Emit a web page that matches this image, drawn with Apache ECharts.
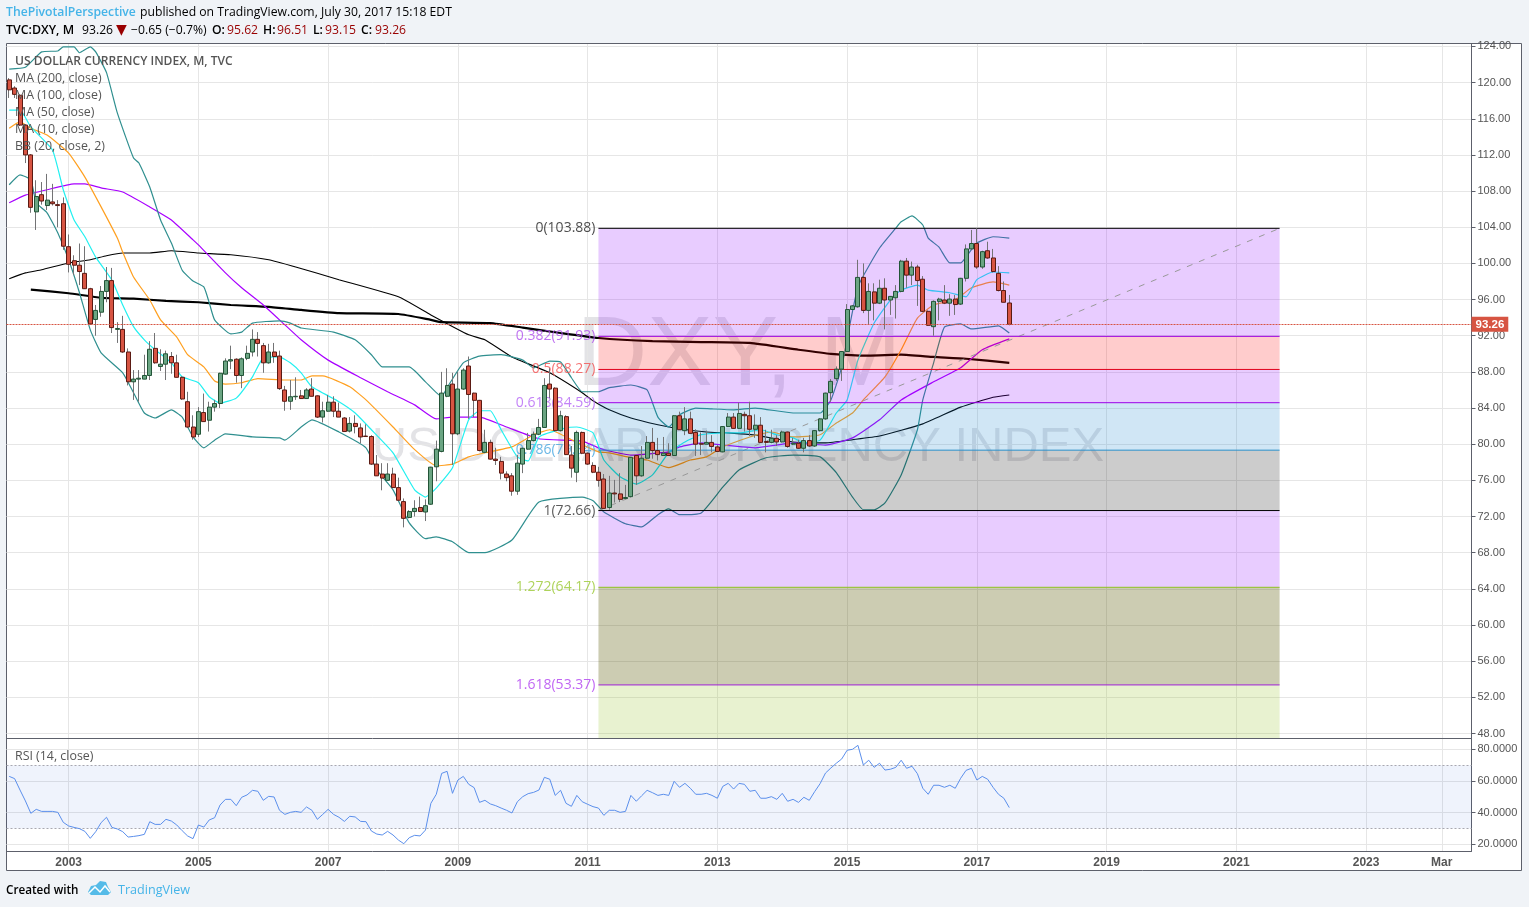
<!DOCTYPE html>
<html><head><meta charset="utf-8">
<style>html,body{margin:0;padding:0;background:#f0f3f7;overflow:hidden}#c{width:1529px;height:907px}</style>
<script src="https://cdn.jsdelivr.net/npm/echarts@6/dist/echarts.min.js"></script>
</head><body><div id="c"></div>
<script>
const opens=[120.3,119.4,118.6,115.3,112,105.7,107.6,106.4,106.8,106.5,106.6,
101.85,100.3,99.8,98.9,97.2,93.8,94.6,96.9,98.1,92.7,
92.7,90.2,86.9,87.2,87.2,87.6,90.6,88.6,88.85,89.7,
89,87.4,84.7,81.9,81.1,83.5,82.65,84.1,84.5,87.75,
89.2,89.4,87.6,89.5,90.2,91.6,90.9,89,90.2,89.75,
86,84.75,85.25,85.35,85.05,86.1,85.35,83,83.65,84.65,
83.65,82.9,81.45,82.3,81.8,80.9,80.85,77.8,76.7,76,
76.7,75.2,73.65,71.9,72.55,73,72.5,73.36,77.5,79.2,
85.3,86.65,81.15,86.1,88.65,85.65,84.85,79.1,80.2,78.35,
78.1,76.7,76.5,74.8,77.8,79.45,80.4,81.1,81.85,86.65,
86.2,81.5,83.05,78.8,76.9,81.3,79,77.65,76.9,76.15,
73,74.6,74.5,74,74.2,78.75,76.5,78.45,80.2,79.3,
78.75,79,78.75,83.15,81.5,82.8,81.3,80.05,80,80.2,
79.7,79.15,81.95,83,81.75,83.3,83.15,81.65,82.1,80.3,
80.2,80.65,80.25,81.35,80,80.1,79.55,80.4,79.8,81.5,
82.8,85.7,87.25,88.3,90.25,94.9,95.2,98.45,94.8,96.85,
95.6,97.25,95.95,96.2,96.9,100.25,98.7,99.6,98.25,94.7,
93,95.8,95.95,95.6,96.05,95.5,98.35,101.6,102.2,99.6,
101.4,100.6,98.9,97,95.62];
const closes=[119.2,118.7,115.3,112,106.2,107.4,106.9,107,106.6,106.4,101.9,
99.9,99.8,99.1,97.2,93.3,94.8,96.9,98.1,92.9,92.8,
90.2,86.9,87.2,87.3,87.6,90.5,89,88.85,90,89,
87.4,85,81.9,80.8,83.6,82.5,84.1,84.5,87.85,89.2,
89.35,87.6,89.45,90.05,91.6,91.15,89,90.2,89.7,86.15,
84.75,85.25,85.3,85.05,86,85.3,83,83.7,84.65,83.65,
83,81.4,82.3,81.95,80.8,80.85,77.8,76.5,76.25,76.7,
75.2,73.8,71.8,72.55,72.9,72.55,73.2,77.46,79.45,85.65,
86.5,81.15,86.1,88.2,85.5,84.85,79.3,80.2,78.35,78.2,
76.8,76.3,74.8,77.9,79.55,80.4,81.1,81.85,86.5,86.1,
81.5,83.15,78.85,77.35,81.3,79,77.8,76.9,76,72.9,
74.6,74.5,73.9,74.1,78.55,76.5,78.45,80.2,79.3,78.85,
79,78.75,83.15,81.6,82.8,81.2,80,80,80.2,79.75,
79.2,81.95,83,81.75,83.4,83.15,81.65,82.1,80.2,80.2,
80.65,80.25,81.35,79.75,80.1,79.55,80.4,79.8,81.5,82.8,
85.65,86.95,88.3,90.25,94.9,95.3,98.45,94.8,96.9,95.6,
97.25,95.95,96.35,96.9,100.25,98.7,99.6,98.1,94.7,93.15,
95.8,96.05,95.6,96.05,95.45,98.35,101.6,102.2,99.6,101.3,
100.6,99.1,97,95.7,93.26];
const highs=[120.5,119.6,118.7,115.4,112.1,109.2,109,109.9,108.8,107,107.3,
103.2,100.9,102.2,101.9,97.3,95.4,97.5,99.6,99.5,93.5,
94.2,90.6,88.2,88.2,89.9,91.4,92.3,90.5,90.35,90.2,
89.9,87.5,85.8,83.2,84.1,85.6,84.7,84.9,87.9,89.5,
90.9,89.5,89.6,90.9,92.7,92.4,91.2,91.1,91.2,90.35,
86.45,87.1,87.4,86,86.2,87.3,85.4,84.7,85.45,85.3,
84.6,83,83,83.2,82.3,82.2,81,78.8,77.9,77.9,
77.4,76.3,74,72.7,73.8,74.2,73.9,77.5,80.4,88,
88.4,87.9,88,88.4,89.7,85.7,84.9,81.6,80.5,79.6,
78.6,77,76.8,78.8,79.6,81.25,81.4,82.8,87.3,88.4,
86.3,83.7,83.2,79.8,81.5,81.4,79.1,78,77.5,76.7,
76.5,76.05,76.8,75.5,78.6,78.8,79.8,80.9,81.8,80.7,
80.8,80.1,83.2,83.6,84.1,83.6,81.65,81.3,81.5,81,
79.9,82,83.45,83.45,84.6,83.6,84.7,83.3,83,81.6,
81.6,81,81.5,81.4,80.7,80.5,80.7,81,81.55,82.85,
85.7,87.2,88.6,90.3,95.5,95.4,100.4,100,97.8,97.8,
98.2,98.35,96.4,97.6,100.4,100.6,100.2,99.85,98.6,94.8,
95.9,96.2,97.6,96.6,96.5,98.4,102.1,103.7,103.9,101.4,
102.4,101.6,99.7,98,96.51];
const lows=[118.3,118.3,115.2,111.1,105.6,103.7,106.5,105.9,106.4,104,101.5,
99,98.7,97.6,97.2,93.2,92,94.1,95.7,92.3,91.2,
90.1,86.5,84.9,84.7,87.2,87.1,88.9,88.1,87.1,87.8,
87.4,84.9,81.8,80.5,80.8,82.5,81.4,83.6,84,87.7,
88.3,86.8,86.2,89.3,89.7,89.7,87.9,88.9,89,86,
83.7,83.8,84.9,85,85,85.3,82.9,82.4,83.6,83,
83,81.4,81.3,81.2,80.1,80.8,77.7,76.5,74.9,76,
75.2,73.8,70.8,71.8,72,72.5,71.5,73.3,75.9,79.1,
85.2,77.7,81,86,82.8,83,79.2,79,78.3,77.7,
76.1,75.9,74.3,74.4,76.8,79.4,80.3,81,81.8,85.1,
81.4,81.4,78.8,76.3,75.8,78.9,77.7,76.8,75.3,72.9,
72.75,73.55,73.6,73.9,74.1,75.5,76.4,78.4,78.4,78.2,
78.7,78.7,78.7,81.6,81,81.2,78.7,78.8,80,79.1,
79.2,79.1,81.9,81.7,81.7,81.4,80.9,80.7,80.2,79.1,
80.1,79.8,80.2,79.6,79.9,79.5,79.1,79.7,79.7,81.4,
82.7,84.7,87,87,90.2,94.9,95.1,94.5,93.3,93.7,
95.5,92.7,94.3,93.9,96.8,97.3,97.6,95.3,94.6,93.1,
92,93.7,95.5,94.2,94.3,95.4,98,101.5,99.4,99.4,
100.5,99,96.9,95.7,93.15];
const rsi=[62.9,61.5,54.3,47.4,39.6,42.1,40.8,40.8,40.8,40.2,33.9,31.6,30.7,29.9,28.2,23.8,28,33.7,37.1,30.7,29.7,28,24.6,25,25.5,26.3,34.3,32.6,32.6,35.8,34.7,32.2,28.6,25.3,23.6,32.2,30.9,35.4,36.8,44.8,48.4,48.4,44.4,49.7,51.2,54.1,53.5,47.8,50.3,49.9,41.5,38.9,40.2,40.8,40.2,43.6,41.5,35.8,38.9,42.1,38.9,37.1,34.5,37.7,37.3,34.5,34.3,28.4,26.5,25.9,28.2,25.9,22.7,20.4,24.2,25.7,25.3,29,45.9,51.6,64.8,66.1,52.2,60.6,62.9,57.9,55.8,46.5,47.8,45.5,44.4,42.9,41.5,39.8,46.9,50.1,52,52.8,54.3,62.3,61.1,50.9,54.1,45.9,44,50.9,46.9,45.3,43.8,42.9,38.3,41.5,41.5,40.2,40.8,50.9,47.2,50.7,54.1,52.6,50.9,51.6,50.9,59.8,56,58.5,55.4,51.6,51.6,52.2,50.9,49.1,56.6,58.5,54.9,58.5,57.9,53.5,54.1,49.1,49.1,50.1,48.4,52.2,47.2,48.4,46.5,49.7,47.8,53.3,58.3,65,68.2,71.2,73.9,79.4,80,82.5,70.1,73.1,68.6,71.2,66.9,67.4,68.6,73.1,68,69.3,64.6,55.4,51.6,57.3,57.3,56,57.3,55.4,61.7,66.7,68,60.6,62.9,61.1,56,51.6,49.1,43.2];
// moving averages and bands, read at [bar index, price]
const ma200=[[4,97.1],[11,96.7],[17,96.2],[23,96.1],[29,95.85],[35,95.7],[41,95.4],[48,95.2],[54,94.85],[61,94.5],[72,94.4],[78,93.75],[80,93.5],[89,93.4],[95,92.9],[102,92.3],[109,91.75],[119,91.4],[128,91.3],[137,91.2],[146,90.45],[152,90],[159,89.8],[165,89.9],[171,89.65],[177,89.45],[185,89]];
const ma100=[[0,98.3],[3,98.95],[6,99.3],[11,100.05],[15,100.4],[18,100.85],[21,101.15],[26,101.15],[30,101.4],[35,101.15],[41,100.95],[48,100.4],[53,99.6],[61,98.2],[72,96.3],[78,94.3],[85,92.1],[88,91.55],[93,89.65],[100,87.9],[106,85.7],[108,84.8],[111,83.8],[115,82.9],[120,82.15],[123,81.8],[129,81.35],[133,81.25],[138,81],[145,80.25],[151,80.15],[156,80.5],[161,80.9],[169,82.25],[176,84.1],[182,85.2],[185,85.45]];
const ma50=[[0,106.7],[3,107.55],[7,108.15],[12,108.8],[14,108.8],[17,108.35],[21,107.9],[26,106.25],[30,104.8],[34,102.6],[35,102.05],[40,98.95],[43,97.3],[47,95.4],[51,93.2],[54,91.55],[59,89.3],[65,87.35],[70,85.8],[75,84.35],[79,82.8],[82,83],[87,83],[92,81.9],[98,80.6],[106,80.35],[109,79.6],[111,79.25],[115,78.8],[122,79.15],[124,79.7],[128,80.15],[132,79.9],[138,79.6],[145,80.15],[151,79.9],[156,80.7],[161,82.7],[165,84.9],[171,86.9],[176,88.45],[180,90.45],[185,91.65]];
const maOrange=[[0,114.95],[2,115.65],[4,114.95],[7,114.2],[11,112.2],[14,109.55],[17,106.25],[20,102.8],[21,101.25],[23,98.5],[26,95.95],[28,93.75],[31,91.85],[33,89.9],[36,88.55],[38,87],[40,86.65],[43,86.8],[46,87.25],[51,87.1],[54,87.1],[56,87.55],[58,87.55],[63,86.35],[66,84.9],[71,81.9],[75,79.4],[79,77.6],[82,77.8],[85,78.6],[88,79.05],[93,79.7],[97,81.05],[100,81.6],[104,80.5],[109,79.15],[111,79.05],[115,78.5],[118,78.25],[122,77.4],[126,78.25],[129,78.6],[132,79.7],[137,80.8],[141,81.35],[145,80.8],[150,81.05],[153,82.35],[156,83.45],[158,84.9],[162,87.45],[165,90.45],[168,93.95],[171,95.4],[175,95.95],[178,97.3],[182,97.95],[185,97.6]];
const ma10=[[0,116.95],[2,116.95],[4,115.1],[8,112.55],[10,108.15],[12,104.8],[14,102.95],[16,100.7],[19,98.15],[21,95.4],[23,93],[25,91.55],[27,90.45],[30,89],[32,87.45],[35,86.8],[37,85.25],[39,84.55],[42,85.1],[45,87.45],[47,89.55],[50,89.65],[52,89],[54,87.9],[56,86.35],[61,84.7],[64,83.45],[67,81.6],[71,79.05],[75,74.95],[77,74.15],[79,75.15],[82,77.4],[85,82.7],[87,83.7],[89,83.7],[91,81.6],[94,78.6],[96,78.15],[98,80.8],[103,81.8],[105,81.9],[108,81.25],[110,78.25],[113,76.4],[116,75.6],[119,76.6],[122,79.05],[125,80.25],[128,81.05],[132,81.25],[135,81.25],[139,81.6],[142,81.05],[145,80.7],[147,80.15],[150,80.45],[153,83.45],[155,84.9],[157,89.3],[160,93.4],[163,95.95],[165,97.05],[168,97.6],[170,97.05],[174,96.75],[177,96.3],[179,98.2],[182,99.05],[185,98.95]];
const bbUpper=[[0,121.5],[3,121.7],[6,123.4],[9,123.5],[10,123.95],[12,123.95],[13,123.3],[15,123.95],[16,123.4],[18,121.1],[20,116.65],[23,111.65],[24,111.1],[26,108.45],[28,104.8],[30,102.25],[32,99.25],[34,98.05],[36,97.4],[37,95.65],[38,93.75],[41,92.2],[43,92.4],[45,93.4],[50,93.65],[52,93.4],[54,92.85],[60,92.4],[64,91.55],[67,89.9],[69,88.55],[74,88.55],[77,86.9],[80,85.25],[81,86.25],[84,89],[87,89.75],[91,89.9],[95,89.3],[97,88.45],[100,89.2],[102,89.1],[104,87.35],[106,85.8],[109,85.8],[111,86.25],[115,86.55],[118,86],[120,83],[122,81.9],[124,83.25],[127,84],[130,83.9],[134,83.8],[138,84],[145,83.45],[150,83.45],[152,84.9],[154,88.55],[157,97.4],[161,101.7],[164,103.9],[165,104.6],[167,105.25],[169,104.25],[170,102.8],[172,101.8],[174,100.05],[176,100.05],[177,100.7],[179,102.25],[182,102.95],[185,102.8]];
const bbLower=[[0,108.7],[2,109.8],[4,109.25],[5,106.7],[7,105.6],[9,103.35],[11,100.4],[13,96.75],[15,92.65],[17,90.1],[21,87.9],[23,85.7],[25,83.45],[27,82.9],[30,83.8],[32,83],[34,80.8],[36,79.6],[38,80.45],[40,81.15],[45,80.8],[50,80.7],[51,80.45],[54,81.9],[56,82.7],[61,81.35],[66,79.6],[68,77.15],[71,74.95],[74,71.3],[77,69.55],[79,69.75],[82,69.2],[85,68],[88,68],[93,69.4],[98,73.6],[106,74.15],[108,73.75],[110,72.5],[114,71.2],[117,70.85],[120,72.2],[122,72.85],[124,72.2],[128,72.4],[132,75.25],[135,77.15],[140,78.5],[145,78.8],[150,78.6],[153,76.85],[156,74.15],[158,72.75],[160,72.75],[162,73.5],[165,76.6],[168,81.6],[169,84.9],[171,89],[173,92.95],[176,93.3],[178,92.75],[183,93.1],[185,92.3]];
// fibonacci retracement drawing
const fibRatios=['0','0.382','0.5','0.618','0.786','1','1.272','1.618'];
const fibPrices=[103.88,91.93,88.27,84.59,79.34,72.66,64.17,53.37];
const fibStartBar=109, fibEndBar=235;
const lastPrice=93.26;
const priceTicks=[48,52,56,60,64,68,72,76,80,84,88,92,96,100,104,108,112,116,120,124];
const rsiTicks=[20,40,60,80];
const timeTicks=['2003-01','2005-01','2007-01','2009-01','2011-01','2013-01','2015-01','2017-01','2019-01','2021-01','2023-01','2024-03'];
const timeTickLabels=['2003','2005','2007','2009','2011','2013','2015','2017','2019','2021','2023','Mar'];
const legendLines=['US DOLLAR CURRENCY INDEX, M, TVC','MA (200, close)','MA (100, close)','MA (50, close)','MA (10, close)','BB (20, close, 2)'];

// monthly categories Feb 2002 onward
const months=[];
for(let k=0;k<271;k++){const t=2002*12+1+k;const y=Math.floor(t/12),m=t%12+1;months.push(y+'-'+(m<10?'0':'')+m);}
const isTick=(i,v)=>timeTicks.indexOf(v)>=0;

const FONT='"Open Sans",sans-serif', AX='"Liberation Sans",Arial,sans-serif';
const fibLine=['#000000','#9c00e0','#e0001a','#9c00e8','#2a8fc8','#000000','#8fc021','#a020d8'];
const fibText=['#222','#b050ee','#f25050','#b464f5','#45a5e0','#333','#9ac832','#b040f0'];
const fibFill=['rgba(140,0,255,.2)','rgba(255,0,0,.2)','rgba(140,0,255,.2)','rgba(20,130,205,.2)','rgba(0,0,0,.2)','rgba(140,0,255,.2)','rgba(85,85,0,.3)','rgba(140,190,20,.2)'];
const PMIN=47.5,PMAX=124.27;
const fibAreas=fibPrices.map((p,i)=>[{coord:[fibStartBar,p],itemStyle:{color:fibFill[i]}},{coord:[fibEndBar,i<fibPrices.length-1?fibPrices[i+1]:PMIN]}]);
const fibLineSeries=fibPrices.map((p,i)=>({name:'Fib '+fibRatios[i],type:'line',data:[[fibStartBar,p],[fibEndBar,p]],symbol:'none',z:3,silent:true,lineStyle:{color:fibLine[i],width:1}}));

function lineS(name,data,color,width,z){return {name,type:'line',xAxisIndex:0,yAxisIndex:0,data,symbol:'none',smooth:0.15,z:z||2,lineStyle:{color,width},silent:true};}
const txt=(x,y,t,o)=>({type:'text',x,y:y+1.5,z:50,silent:true,style:Object.assign({text:t,font:'12.2px '+FONT,fill:'#000',verticalAlign:'middle'},o||{})});
const LG={fill:'#555',font:'12.4px '+FONT};
const g=[
 {type:'rect',z:-10,silent:true,shape:{x:6.5,y:43.5,width:1515,height:827},style:{fill:'#fff',stroke:'#5d606b',lineWidth:1}},
 {type:'text',z:-1,silent:true,x:739,y:358,style:{text:'DXY, M',font:'98px "Liberation Sans",Arial,sans-serif',fill:'rgba(60,60,80,.14)',align:'center',verticalAlign:'middle'}},
 {type:'text',z:-1,silent:true,x:738,y:447,style:{text:'US DOLLAR CURRENCY INDEX',font:'49px "Liberation Sans",Arial,sans-serif',fill:'rgba(60,60,80,.14)',align:'center',verticalAlign:'middle'}},
 txt(6,11,'ThePivotalPerspective',{fill:'#45b4e8',font:'600 12.2px '+FONT}),
 txt(140,11,'published on TradingView.com, July 30, 2017 15:18 EDT'),
 txt(6,29,'TVC:DXY, M',{font:'600 12.4px '+FONT}),
 txt(82,29,'93.26'),
 txt(116,29,'▼',{fill:'#990000',font:'14px "DejaVu Sans"'}),
 txt(131,29,'−0.65 (−0.7%)'),
 txt(212,29,'O:',{font:'600 12.2px '+FONT}),txt(227,29,'95.62',{fill:'#990000'}),
 txt(263,29,'H:',{font:'600 12.2px '+FONT}),txt(277,29,'96.51',{fill:'#990000'}),
 txt(313,29,'L:',{font:'600 12.2px '+FONT}),txt(325,29,'93.15',{fill:'#990000'}),
 txt(361,29,'C:',{font:'600 12.2px '+FONT}),txt(375,29,'93.26',{fill:'#990000'}),
 txt(15,60,legendLines[0],{fill:'#555',font:'600 12.1px '+FONT}),
 txt(15,77,legendLines[1],LG),txt(15,94,legendLines[2],LG),
 txt(15,111,legendLines[3],LG),txt(15,128,legendLines[4],LG),
 txt(15,145,legendLines[5],LG),
 txt(15,755,'RSI (14, close)',LG),
 txt(6,889,'Created with',{font:'600 11.7px '+FONT}),
 txt(118,889,'TradingView',{fill:'#45b4e8',font:'12.6px '+FONT}),
 {type:'polygon',z:50,silent:true,shape:{points:[[88,892],[91,886],[96,885],[100,881],[106,882],[108,887],[111,892],[108,895],[91,895]]},style:{fill:'#55bbe8'}},
 {type:'polyline',z:51,silent:true,shape:{points:[[89,893],[95,887],[100,892],[105,886],[110,892]]},style:{stroke:'#fff',lineWidth:1.5,fill:null}}
];

const option={
 animation:false,backgroundColor:'#f0f3f7',textStyle:{fontFamily:AX},
 graphic:g,
 grid:[{left:6.5,top:44,width:1465,height:694,containLabel:false},{left:6.5,top:739,width:1465,height:112}],
 xAxis:[0,1].map(gi=>({type:'category',gridIndex:gi,data:months,boundaryGap:true,
   axisLine:{show:true,onZero:false,lineStyle:{color:'#5d606b'}},
   axisTick:{show:false,alignWithLabel:true,interval:isTick},
   splitLine:{show:true,alignWithLabel:true,interval:isTick,lineStyle:{color:'#e6e6e6'}},
   axisLabel:{show:gi===1,interval:isTick,hideOverlap:false,margin:6,color:'#555',fontSize:12,fontWeight:'bold',fontFamily:AX,formatter:v=>timeTickLabels[timeTicks.indexOf(v)]||''}})),
 yAxis:[
  {type:'value',gridIndex:0,position:'right',min:PMIN,max:PMAX,scale:true,
   axisLine:{show:true,lineStyle:{color:'#5d606b'}},axisTick:{show:true,length:4,customValues:priceTicks,lineStyle:{color:'#5d606b'}},
   splitLine:{show:true,lineStyle:{color:'#e6e6e6'}},
   axisLabel:{customValues:priceTicks,margin:6,padding:[2,0,0,0],color:'#555',fontSize:11,fontFamily:AX,formatter:v=>v.toFixed(2)}},
  {type:'value',gridIndex:1,position:'right',min:15.8,max:86.5,scale:true,
   axisLine:{show:true,lineStyle:{color:'#5d606b'}},axisTick:{show:true,length:4,customValues:rsiTicks,lineStyle:{color:'#5d606b'}},
   splitLine:{show:true,lineStyle:{color:'#e6e6e6'}},
   axisLabel:{customValues:rsiTicks,margin:6,padding:[2,0,0,0],color:'#555',fontSize:11,fontFamily:AX,formatter:v=>v.toFixed(4)}}
 ],
 series:[
  lineS('MA 200',ma200,'#000',2.2),
  lineS('MA 100',ma100,'#000',1.1),
  lineS('MA 50',ma50,'#a800ff',1.2),
  lineS('MA 20',maOrange,'#ffa020',1.2),
  lineS('MA 10',ma10,'#22f0f0',1.2),
  lineS('BB upper',bbUpper,'#2f8f8f',1.2),
  lineS('BB lower',bbLower,'#2f8f8f',1.2),
  {name:'Trend',type:'line',data:[[fibStartBar,fibPrices[5]],[fibEndBar,fibPrices[0]]],symbol:'none',z:3,silent:true,lineStyle:{color:'#999',width:1,type:[6,7]}},
  ...fibLineSeries,
  {name:'Fib',type:'scatter',z:3,silent:true,symbolSize:0,
   data:fibPrices.map((p,i)=>({value:[fibStartBar,p],label:{formatter:fibRatios[i]+'('+p.toFixed(2)+')',color:fibText[i]}})),
   label:{show:true,position:'left',distance:3,fontSize:14,fontFamily:FONT},
   markArea:{silent:true,z:3,data:fibAreas}},
  {name:'Wicks',type:'candlestick',z:4,silent:true,barWidth:1,data:opens.map((o,i)=>[o,closes[i],lows[i],highs[i]]),
   itemStyle:{color:'#737375',color0:'#737375',borderColor:'#737375',borderColor0:'#737375',borderColorDoji:'#737375',borderWidth:1}},
  {name:'DXY',type:'candlestick',z:5,silent:true,barWidth:4.5,data:opens.map((o,i)=>[o,closes[i],Math.min(o,closes[i]),Math.max(o,closes[i])]),
   itemStyle:{color:'#6ba583',color0:'#d75442',borderColor:'#225437',borderColor0:'#5b1a13',borderColorDoji:'#225437',borderWidth:1},
   markLine:{silent:true,z:6,symbol:'none',data:[{yAxis:lastPrice}],lineStyle:{color:'#d75442',type:[2,1],width:1},
     label:{show:true,position:'end',distance:0,formatter:lastPrice.toFixed(2),backgroundColor:'#d75442',color:'#fff',fontWeight:'bold',fontSize:11.5,fontFamily:AX,padding:[2,4,1,4]}}},
  {name:'RSI',type:'line',xAxisIndex:1,yAxisIndex:1,data:rsi,symbol:'none',z:3,silent:true,lineStyle:{color:'#5b8fec',width:1},
   markArea:{silent:true,z:1,itemStyle:{color:'rgba(40,100,220,.075)'},data:[[{yAxis:70},{yAxis:30}]]},
   markLine:{silent:true,z:2,symbol:'none',label:{show:false},lineStyle:{color:'#a8a8b0',type:[2,2],width:1},data:[{yAxis:70},{yAxis:30}]}}
 ]
};
echarts.init(document.getElementById('c'),null,{renderer:'canvas'}).setOption(option);
</script></body></html>
